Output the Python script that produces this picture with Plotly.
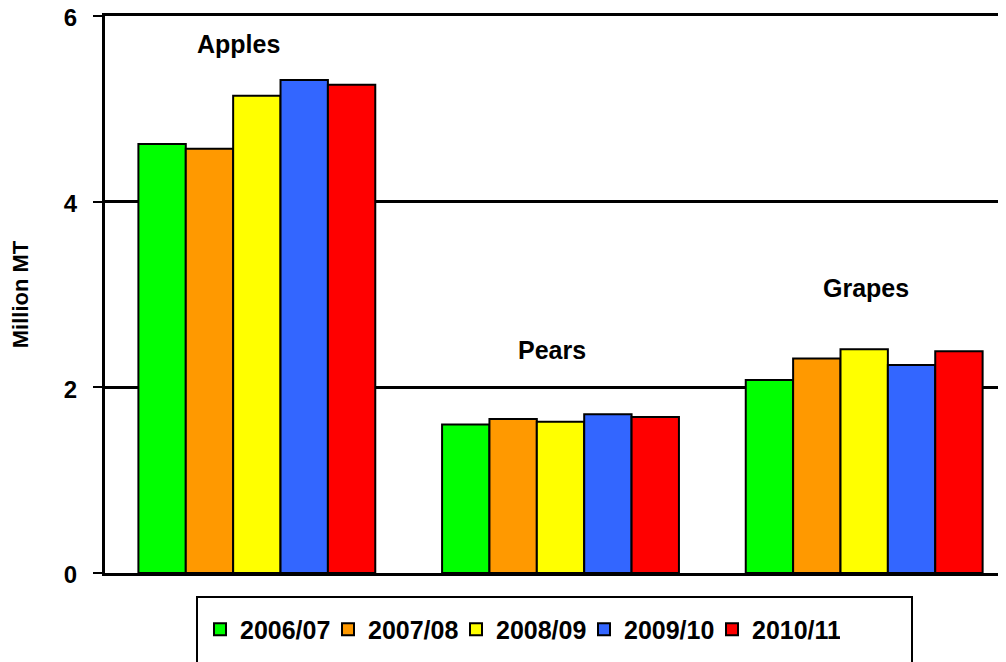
import plotly.graph_objects as go

categories = ["Apples", "Pears", "Grapes"]
seasons = ["2006/07", "2007/08", "2008/09", "2009/10", "2010/11"]
values_2006 = [4.62, 1.60, 2.08]
values_2007 = [4.57, 1.66, 2.31]
values_2008 = [5.14, 1.63, 2.41]
values_2009 = [5.31, 1.71, 2.24]
values_2010 = [5.26, 1.68, 2.39]
colors = ["#00FF00", "#FF9900", "#FFFF00", "#3366FF", "#FF0000"]
y_ticks = [0, 2, 4, 6]

series = [values_2006, values_2007, values_2008, values_2009, values_2010]

FONT = "Liberation Sans, Arial, sans-serif"

# page body has an 8px margin, so the figure is offset by 8px
W, H = 998, 654
L, T, B = 97, 8, 89
PW = W - L
PH = H - T - B
PB = H - B  # plot bottom in div coords

fig = go.Figure()
for name, vals, col in zip(seasons, series, colors):
    fig.add_trace(go.Bar(
        x=categories, y=vals, name=name,
        marker=dict(color=col, line=dict(color="black", width=2)),
    ))

fig.update_layout(
    width=W, height=H,
    margin=dict(l=L, r=0, t=T, b=B, autoexpand=False),
    paper_bgcolor="white", plot_bgcolor="white",
    barmode="group", bargap=0.22, bargroupgap=0,
    font=dict(family=FONT, color="black", size=22, weight="bold"),
    showlegend=True,
    legend=dict(
        orientation="h", x=(192 - L) / PW, xanchor="left", y=-0.06, yanchor="top",
        font=dict(family=FONT, size=25, color="black", weight="bold"),
        bgcolor="rgba(0,0,0,0)", borderwidth=0,
        entrywidth=83, entrywidthmode="pixels",
    ),
    xaxis=dict(
        range=[-0.5, 2.467], showticklabels=False, ticks="",
        showline=True, linecolor="black", linewidth=3, mirror=True,
        showgrid=False, zeroline=False,
    ),
    yaxis=dict(
        range=[0, 6], tickvals=y_ticks, ticks="outside", ticklen=9,
        tickwidth=2, tickcolor="black",
        tickfont=dict(family=FONT, size=24, color="black", weight="bold"),
        ticklabelstandoff=11, ticklabeloverflow="allow", ticklabelshift=2,
        showline=True, linecolor="black", linewidth=3,
        showgrid=True, gridcolor="black", gridwidth=3, zeroline=False,
        title=dict(text="Million MT", standoff=37,
                   font=dict(family=FONT, size=22, color="black", weight="bold")),
    ),
    shapes=[dict(type="rect", xref="paper", yref="paper",
                 x0=(189 - L) / PW, x1=(904 - L) / PW,
                 y0=(PB - 589) / PH, y1=(PB - 672) / PH,
                 line=dict(color="black", width=2), fillcolor="rgba(0,0,0,0)")],
    annotations=[
        dict(x=-0.06, y=5.70, text="Apples", showarrow=False, xref="x", yref="y",
             font=dict(family=FONT, size=25, color="black", weight="bold")),
        dict(x=0.972, y=2.40, text="Pears", showarrow=False, xref="x", yref="y",
             font=dict(family=FONT, size=25, color="black", weight="bold")),
        dict(x=2.006, y=3.07, text="Grapes", showarrow=False, xref="x", yref="y",
             font=dict(family=FONT, size=25, color="black", weight="bold")),
    ],
)

fig.write_html("out.html")
